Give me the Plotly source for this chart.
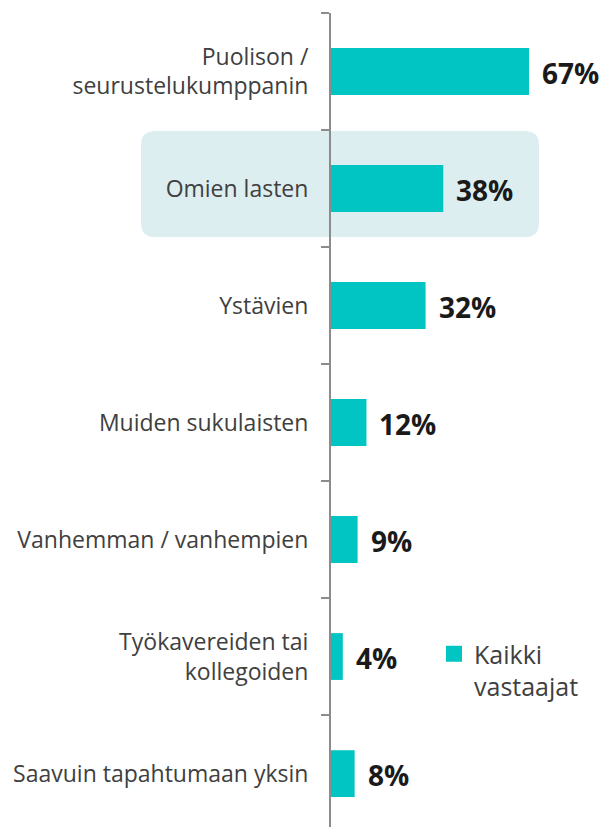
import plotly.graph_objects as go

categories = [
    "Puolison /<br>seurustelukumppanin",
    "Omien lasten",
    "Ystävien",
    "Muiden sukulaisten",
    "Vanhemman / vanhempien",
    "Työkavereiden tai<br>kollegoiden",
    "Saavuin tapahtumaan yksin",
]
values = [67, 38, 32, 12, 9, 4, 8]
series_name = "Kaikki<br>vastaajat"

BAR = "#00C5C3"
GRAY = "#404040"
FONT = "Open Sans"

OFF = 8  # page body margin
W, H = 610 - OFF, 827 - OFF
ML, MR, MT, MB = 331 - OFF, 10, 13 - OFF, 0
pw = W - ML - MR
ph = H - MT - MB

fig = go.Figure()
fig.add_trace(go.Bar(
    y=categories, x=values, orientation="h",
    marker=dict(color=BAR, line=dict(width=0)),
    width=0.4, name=series_name, showlegend=False,
))
fig.add_trace(go.Scatter(
    x=[None], y=[None], mode="markers", name=series_name,
    marker=dict(symbol="square", size=16, color=BAR), showlegend=True,
))

for c, v in zip(categories, values):
    fig.add_annotation(x=v, y=c, text=f"<b>{v}%</b>", showarrow=False,
                       xanchor="left", xshift=11, yshift=-1,
                       font=dict(family=FONT, size=28, color="#1a1a1a"))

def px2x(px):
    return (px - OFF - ML) / pw

def py2y(py):
    return 1 - (py - OFF - MT) / ph

x0, x1 = px2x(141), px2x(539)
y0, y1 = py2y(237), py2y(131)
rx, ry = 14 / pw, 14 / ph
path = (f"M {x0+rx},{y1} L {x1-rx},{y1} Q {x1},{y1} {x1},{y1-ry} "
        f"L {x1},{y0+ry} Q {x1},{y0} {x1-rx},{y0} L {x0+rx},{y0} "
        f"Q {x0},{y0} {x0},{y0+ry} L {x0},{y1-ry} Q {x0},{y1} {x0+rx},{y1} Z")
fig.add_shape(type="path", path=path, xref="paper", yref="paper",
              fillcolor="#DDEEF0", line=dict(width=0), layer="below")

fig.update_layout(
    width=W, height=H,
    margin=dict(l=ML, r=MR, t=MT, b=MB),
    plot_bgcolor="rgba(0,0,0,0)", paper_bgcolor="white",
    font=dict(family=FONT, size=22, color=GRAY),
    legend=dict(x=px2x(434), y=py2y(631), xanchor="left", yanchor="top",
                bgcolor="rgba(0,0,0,0)", font=dict(size=25, color=GRAY),
                valign="top", itemsizing="trace", tracegroupgap=0),
    xaxis=dict(range=[0, pw / 2.955], visible=False, showgrid=False,
               zeroline=False),
    yaxis=dict(type="category", range=[6.457, -0.5], showgrid=False,
               zeroline=False, showline=True, linecolor="#8C8C8C",
               linewidth=2, ticks="outside", ticklen=8, tickwidth=2,
               tickcolor="#8C8C8C", tickson="boundaries",
               ticklabelstandoff=16,
               tickfont=dict(family=FONT, size=23, color=GRAY)),
)

fig.write_html("out.html")
